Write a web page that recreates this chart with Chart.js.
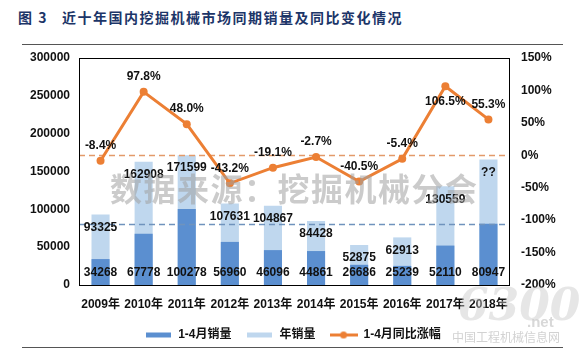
<!DOCTYPE html>
<html><head><meta charset="utf-8">
<script src="https://cdn.jsdelivr.net/npm/chart.js@4/dist/chart.umd.min.js"></script>
<style>
html,body{margin:0;padding:0;background:#fff;}
#wrap{position:relative;width:585px;height:357px;overflow:hidden;background:#fff;}
#title{position:absolute;left:18px;top:7px;font:bold 14px 'Noto Sans CJK SC',sans-serif;color:#1c3568;letter-spacing:1.5px;white-space:nowrap;line-height:20px;}
.hr{position:absolute;left:22px;width:541px;height:1px;background:#555;}
#chart{position:absolute;left:0;top:0;}
#wm{position:absolute;left:110px;top:170px;font:bold 32px 'Noto Sans CJK SC',sans-serif;color:rgba(160,160,160,0.55);white-space:nowrap;pointer-events:none;letter-spacing:1.5px;line-height:34px;}
#logo{position:absolute;left:458px;top:283px;font:italic bold 44px 'DejaVu Serif',serif;color:rgba(200,200,200,0.45);pointer-events:none;line-height:44px;}
#net{position:absolute;left:527px;top:313px;font:bold 15px 'Liberation Sans',sans-serif;color:rgba(200,200,200,0.7);pointer-events:none;}
#site{position:absolute;left:452px;top:330px;font:12px 'Noto Sans CJK SC',sans-serif;color:rgba(205,205,205,0.9);pointer-events:none;white-space:nowrap;line-height:14px;}
</style></head>
<body>
<div id="wrap">
  <div id="title">图 3&nbsp;&nbsp;&nbsp;近十年国内挖掘机械市场同期销量及同比变化情况</div>
  <div class="hr" style="top:44px"></div>
  <canvas id="chart" width="585" height="357"></canvas>
  <div class="hr" style="top:347px"></div>
  <div id="wm">数据来源：挖掘机械分会</div>
  <div id="logo">6300</div>
  <div id="net">.net</div>
  <div id="site">中国工程机械信息网</div>
</div>
<script>
// ---- data ----
const categories = ['2009年','2010年','2011年','2012年','2013年','2014年','2015年','2016年','2017年','2018年'];
const janAprSales = [34268, 67778, 100278, 56960, 46096, 44861, 26686, 25239, 52110, 80947];
const annualSales = [93325, 162908, 171599, 107631, 104867, 84428, 52875, 62913, 130559, 166000];
const annualLabels = ['93325','162908','171599','107631','104867','84428','52875','62913','130559','??'];
const yoyGrowth = [-8.4, 97.8, 48.0, -43.2, -19.1, -2.7, -40.5, -5.4, 106.5, 55.3];
const seriesNames = ['1-4月销量', '年销量', '1-4月同比涨幅'];
const leftTickRange = [0, 300000, 50000];
const rightTickRange = [-200, 150, 50];
const zeroGrowthRef = 0;            // orange dashed reference (right axis)
const salesRef = janAprSales[9];    // blue dashed reference (left axis)

const FONT = "'Liberation Sans','Noto Sans CJK SC',Arial,sans-serif";
const DARK = '#5b8fd0', LIGHT = '#bfd7ee', ORANGE = '#ec7f34';

function swatch(color, w, h, marker) {
  const c = document.createElement('canvas');
  c.width = w; c.height = h;
  const g = c.getContext('2d');
  if (marker) {
    g.strokeStyle = color; g.lineWidth = 3;
    g.beginPath(); g.moveTo(0, h/2); g.lineTo(w, h/2); g.stroke();
    g.fillStyle = color; g.beginPath(); g.arc(w/2, h/2, 3.5, 0, Math.PI*2); g.fill();
  } else {
    g.fillStyle = color; g.fillRect(0, (h-5)/2, w, 5);
  }
  return c;
}
const legendImgs = [swatch(DARK, 25, 9, false), swatch(LIGHT, 25, 9, false), swatch(ORANGE, 28, 9, true)];

const framePlugin = {
  id: 'frameAndLabels',
  beforeDatasetDraw(chart, args) {
    if (args.meta.type !== 'line') return;
    const ctx = chart.ctx, a = chart.chartArea;
    ctx.save();
    ctx.lineWidth = 1.5;
    ctx.setLineDash([6, 4]);
    let y = Math.round(chart.scales.y1.getPixelForValue(zeroGrowthRef)) + 0.5;
    ctx.strokeStyle = '#e39a6a';
    ctx.beginPath(); ctx.moveTo(a.left, y); ctx.lineTo(a.right, y); ctx.stroke();
    y = Math.round(chart.scales.y.getPixelForValue(salesRef)) + 0.5;
    ctx.strokeStyle = '#6f93bd';
    ctx.beginPath(); ctx.moveTo(a.left, y); ctx.lineTo(a.right, y); ctx.stroke();
    ctx.restore();
  },
  afterDatasetsDraw(chart) {
    const ctx = chart.ctx, a = chart.chartArea;
    ctx.save();
    ctx.strokeStyle = '#000'; ctx.lineWidth = 1;
    ctx.strokeRect(Math.round(a.left)+0.5, Math.round(a.top)+0.5, Math.round(a.right-a.left)-1, Math.round(a.bottom-a.top));
    ctx.font = 'bold 12px ' + FONT;
    ctx.fillStyle = '#111';
    ctx.textAlign = 'center';
    ctx.textBaseline = 'middle';
    const base = chart.scales.y.getPixelForValue(0);
    chart.getDatasetMeta(0).data.forEach((el, i) => {
      ctx.fillText(String(janAprSales[i]), el.x, base - 12);
    });
    chart.getDatasetMeta(1).data.forEach((el, i) => {
      ctx.fillText(annualLabels[i], el.x, el.y + 13);
    });
    chart.getDatasetMeta(2).data.forEach((el, i) => {
      const below = i === 8;
      ctx.fillText(yoyGrowth[i].toFixed(1) + '%', el.x, el.y + (below ? 15 : -15));
    });
    ctx.restore();
  }
};

const tickFont = { family: FONT, size: 12, weight: 'bold' };

new Chart(document.getElementById('chart'), {
  type: 'bar',
  data: {
    labels: categories,
    datasets: [
      { type: 'bar', label: seriesNames[0], data: janAprSales, backgroundColor: DARK, yAxisID: 'y', grouped: false, order: 1, barPercentage: 0.42, categoryPercentage: 1 },
      { type: 'bar', label: seriesNames[1], data: annualSales, backgroundColor: LIGHT, yAxisID: 'y', grouped: false, order: 2, barPercentage: 0.42, categoryPercentage: 1 },
      { type: 'line', label: seriesNames[2], data: yoyGrowth, borderColor: ORANGE, backgroundColor: ORANGE, borderWidth: 3, pointRadius: 4, pointBorderWidth: 0, pointBackgroundColor: ORANGE, tension: 0, yAxisID: 'y1', order: 0 }
    ]
  },
  options: {
    responsive: false,
    animation: false,
    devicePixelRatio: 1,
    layout: { padding: { top: 58, left: 0, right: 0, bottom: 6 } },
    plugins: {
      tooltip: { enabled: false },
      title: { display: false },
      legend: {
        position: 'bottom',
        labels: {
          usePointStyle: true,
          pointStyleWidth: 28,
          boxHeight: 9,
          padding: 14,
          font: { family: FONT, size: 12, weight: 'bold' },
          color: '#111',
          sort: (a, b) => a.datasetIndex - b.datasetIndex,
          generateLabels(chart) {
            const items = Chart.defaults.plugins.legend.labels.generateLabels(chart);
            items.forEach(it => { it.pointStyle = legendImgs[it.datasetIndex]; });
            return items;
          }
        }
      }
    },
    scales: {
      x: {
        grid: { display: false, drawTicks: false },
        border: { display: false },
        ticks: { font: tickFont, color: '#111', padding: 12, maxRotation: 0, autoSkip: false },
        afterFit(s) { s.height = 30; }
      },
      y: {
        position: 'left', min: leftTickRange[0], max: leftTickRange[1],
        grid: { display: false, drawTicks: false },
        border: { display: false },
        ticks: { stepSize: leftTickRange[2], font: tickFont, color: '#111', padding: 9, callback: v => String(v) },
        afterFit(s) { s.width = 79; }
      },
      y1: {
        position: 'right', min: rightTickRange[0], max: rightTickRange[1],
        grid: { display: false, drawTicks: false },
        border: { display: false },
        ticks: { stepSize: rightTickRange[2], font: tickFont, color: '#111', padding: 11, callback: v => v + '%' },
        afterFit(s) { s.width = 75; }
      }
    }
  },
  plugins: [framePlugin]
});
</script>
</body></html>
